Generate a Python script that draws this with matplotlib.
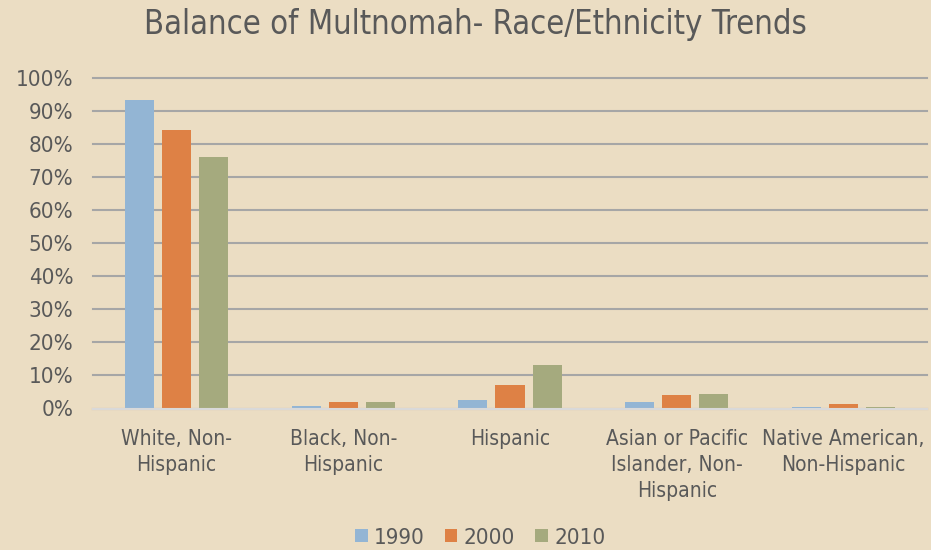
import matplotlib
matplotlib.use("Agg")
import matplotlib.pyplot as plt
import numpy as np
from matplotlib.ticker import FuncFormatter, MultipleLocator

categories = ["White, Non-\nHispanic", "Black, Non-\nHispanic", "Hispanic",
              "Asian or Pacific\nIslander, Non-\nHispanic", "Native American,\nNon-Hispanic"]
years = ["1990", "2000", "2010"]
v1990 = [93.2, 0.9, 2.7, 1.9, 0.6]
v2000 = [84.2, 1.9, 7.0, 4.2, 1.4]
v2010 = [76.0, 2.1, 13.0, 4.4, 0.6]
colors = ["#93B5D4", "#DE8145", "#A5AA7E"]

plt.rcParams['font.family'] = ['DejaVu Sans']
plt.rcParams['font.stretch'] = 'condensed'
bg = "#EBDDC3"
txt = "#595959"

fig = plt.figure(figsize=(9.31, 5.5), dpi=100, facecolor=bg)
ax = fig.add_axes([93 / 931, 1 - 408.5 / 550, 834 / 931, 330.8 / 550], facecolor=bg)

x = np.arange(len(categories))
step = 0.222
w = 0.174
for i, (vals, yr) in enumerate(zip([v1990, v2000, v2010], years)):
    ax.bar(x + (i - 1) * step, vals, width=w, color=colors[i], label=yr, zorder=3)

ax.set_xlim(-0.5, len(categories) - 0.5)
ax.set_ylim(0, 100)
ax.yaxis.set_major_locator(MultipleLocator(10))
ax.yaxis.set_major_formatter(FuncFormatter(lambda v, p: f"{int(round(v))}%"))
ax.set_xticks(x)
ax.set_xticklabels(categories, linespacing=1.35)
ax.grid(axis='y', color="#A6A6A6", linewidth=1.5, zorder=0)
for gl in ax.get_ygridlines():
    gl.set_clip_on(False)
ax.tick_params(axis='y', length=0, labelsize=16, labelcolor=txt, pad=14)
ax.tick_params(axis='x', length=0, labelsize=15, labelcolor=txt, pad=15)
for s in ['top', 'right', 'left']:
    ax.spines[s].set_visible(False)
ax.spines['bottom'].set_color("#D9D9D9")
ax.spines['bottom'].set_linewidth(1.5)
ax.spines['bottom'].set_zorder(4)

fig.suptitle("Balance of Multnomah- Race/Ethnicity Trends", x=0.511, y=0.985,
             va='top', fontsize=23.5, color=txt)

leg = fig.legend(loc='lower center', bbox_to_anchor=(0.516, -0.032), ncol=3, frameon=False,
                 fontsize=16, handlelength=0.55, handleheight=0.55, handletextpad=0.3,
                 columnspacing=0.9)
for t in leg.get_texts():
    t.set_color(txt)

fig.savefig("out.png", dpi=100, facecolor=bg)
